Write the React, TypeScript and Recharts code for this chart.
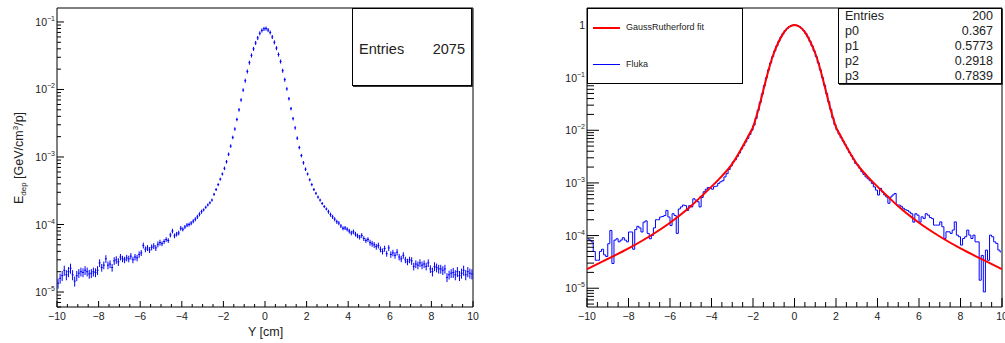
import React from 'react';
import { ComposedChart, Scatter, Line, XAxis, YAxis, ErrorBar, ReferenceArea } from 'recharts';

// ---- left panel: energy deposit per 0.1 cm bin, Y from -10 to 10 cm ----
const leftValues = [
  1.35e-5, 1.6e-5, 1.75e-5, 2.1e-5, 1.8e-5, 2.0e-5, 2.25e-5, 1.8e-5, 1.45e-5, 1.75e-5,
  1.9e-5, 2.0e-5, 1.95e-5, 2.1e-5, 2.0e-5, 1.85e-5, 1.9e-5, 2.0e-5, 1.95e-5, 2.1e-5,
  2.7e-5, 2.3e-5, 2.5e-5, 3.1e-5, 2.5e-5, 2.6e-5, 2.3e-5, 2.9e-5, 3.0e-5, 2.8e-5,
  3.3e-5, 3.1e-5, 3.0e-5, 3.2e-5, 3.1e-5, 3.4e-5, 3.0e-5, 3.3e-5, 3.2e-5, 3.6e-5,
  3.8e-5, 4.9e-5, 4.3e-5, 4.5e-5, 4.2e-5, 4.6e-5, 4.8e-5, 4.5e-5, 5.1e-5, 5.4e-5,
  5.2e-5, 5.6e-5, 6.0e-5, 5.8e-5, 7.0e-5, 8.0e-5, 6.8e-5, 7.2e-5, 7.5e-5, 8.8e-5,
  8.5e-5, 9.2e-5, 9.8e-5, 1.0e-4, 1.05e-4, 1.12e-4, 1.2e-4, 1.3e-4, 1.42e-4, 1.55e-4,
  1.65e-4, 1.8e-4, 1.95e-4, 2.1e-4, 2.3e-4, 2.8e-4, 3.3e-4, 3.9e-4, 4.7e-4, 5.6e-4,
  6.8e-4, 8.5e-4, 1.1e-3, 1.45e-3, 1.95e-3, 2.6e-3, 3.6e-3, 5.0e-3, 7.0e-3, 9.8e-3,
  0.0135, 0.0185, 0.025, 0.032, 0.040, 0.049, 0.058, 0.068, 0.075, 0.079,
  0.080, 0.076, 0.070, 0.060, 0.050, 0.041, 0.033, 0.026, 0.019, 0.014,
  0.0102, 0.0073, 0.0052, 0.0037, 0.0027, 0.0019, 0.00138, 0.00105, 8.2e-4, 6.6e-4,
  5.6e-4, 4.6e-4, 3.9e-4, 3.3e-4, 2.9e-4, 2.55e-4, 2.3e-4, 2.05e-4, 1.85e-4, 1.7e-4,
  1.55e-4, 1.4e-4, 1.3e-4, 1.2e-4, 1.1e-4, 1.05e-4, 9.5e-5, 8.8e-5, 8.9e-5, 8.5e-5,
  8.0e-5, 7.5e-5, 7.8e-5, 7.2e-5, 6.8e-5, 6.5e-5, 6.9e-5, 6.2e-5, 5.8e-5, 6.0e-5,
  5.4e-5, 5.2e-5, 5.0e-5, 4.7e-5, 4.9e-5, 4.3e-5, 4.0e-5, 4.4e-5, 3.7e-5, 4.5e-5,
  3.6e-5, 3.8e-5, 3.5e-5, 3.9e-5, 3.3e-5, 3.1e-5, 3.5e-5, 3.0e-5, 2.8e-5, 3.0e-5,
  2.9e-5, 2.4e-5, 2.6e-5, 2.5e-5, 2.7e-5, 2.5e-5, 2.6e-5, 2.4e-5, 2.7e-5, 2.2e-5,
  2.0e-5, 2.4e-5, 2.3e-5, 2.2e-5, 2.2e-5, 2.1e-5, 2.2e-5, 1.65e-5, 1.8e-5, 1.9e-5,
  1.95e-5, 1.8e-5, 2.0e-5, 1.75e-5, 1.9e-5, 2.1e-5, 1.8e-5, 2.0e-5, 1.9e-5, 1.85e-5,
];
// relative error bar size, by |Y| in whole cm
const leftRelErr = [0.07, 0.06, 0.05, 0.07, 0.08, 0.1, 0.11, 0.13, 0.15, 0.17];

// ---- right panel: normalised Fluka histogram ----
const flukaValues = [
  8.7e-5, 8.2e-5, 7.6e-5, 5.0e-5, 3.4e-5, 3.4e-5, 5.0e-5, 5.5e-5, 4.3e-5, 4.0e-5,
  7.0e-5, 1.25e-4, 2.95e-5, 8.2e-5, 8.7e-5, 7.6e-5, 8.2e-5, 9.1e-5, 8.2e-5, 7.6e-5,
  1.17e-4, 1.17e-4, 5.5e-5, 1.3e-4, 1.5e-4, 1.4e-4, 1.17e-4, 1.8e-4, 1.9e-4, 1.1e-4,
  8.7e-5, 1.0e-4, 1.4e-4, 2.0e-4, 2.0e-4, 2.25e-4, 2.3e-4, 2.4e-4, 3.0e-4, 2.25e-4,
  1.55e-4, 2.6e-4, 2.4e-4, 1.1e-4, 3.2e-4, 3.5e-4, 3.8e-4, 3.7e-4, 3.0e-4, 3.7e-4,
  3.5e-4, 5.0e-4, 4.7e-4, 4.4e-4, 3.5e-4, 5.3e-4, 6.8e-4, 7.6e-4, 8.2e-4, 7.9e-4,
  7.6e-4, 8.5e-4, 8.7e-4, 9.8e-4, 1.05e-3, 1.1e-3, 1.3e-3, 1.5e-3, 1.8e-3, 2.1e-3,
  2.5e-3, 2.75e-3, 3.2e-3, 3.7e-3, 4.4e-3, 5.1e-3, 6.0e-3, 7.0e-3, 8.3e-3, 0.0100,
  0.0125, 0.0168, 0.024, 0.034, 0.049, 0.071, 0.10, 0.14, 0.19, 0.25,
  0.32, 0.40, 0.49, 0.59, 0.69, 0.78, 0.86, 0.925, 0.97, 0.995,
  0.995, 0.97, 0.92, 0.86, 0.78, 0.69, 0.59, 0.49, 0.40, 0.32,
  0.25, 0.19, 0.14, 0.10, 0.072, 0.050, 0.035, 0.025, 0.0172, 0.0128,
  0.0102, 0.0085, 0.0072, 0.0062, 0.0053, 0.0045, 0.0038, 0.0033, 0.0028, 2.35e-3,
  2.2e-3, 1.9e-3, 1.63e-3, 1.45e-3, 1.3e-3, 1.2e-3, 1.1e-3, 9.8e-4, 8.4e-4, 7.3e-4,
  5.9e-4, 7.9e-4, 6.7e-4, 5.9e-4, 5.4e-4, 4.1e-4, 5.4e-4, 5.9e-4, 6.3e-4, 3.8e-4,
  3.8e-4, 3.6e-4, 3.3e-4, 3.1e-4, 3.0e-4, 2.8e-4, 2.6e-4, 1.8e-4, 2.6e-4, 2.44e-4,
  1.8e-4, 2.27e-4, 2.1e-4, 2.6e-4, 2.44e-4, 2.2e-4, 2.1e-4, 1.58e-4, 1.58e-4, 1.58e-4,
  1.82e-4, 1.47e-4, 8.8e-5, 1.18e-4, 1.18e-4, 1.1e-4, 1.27e-4, 1.82e-4, 1.02e-4, 9.5e-5,
  6.6e-5, 8.8e-5, 9.5e-5, 1.27e-4, 1.02e-4, 8.8e-5, 1.02e-4, 7.6e-5, 7.6e-5, 1.42e-5,
  4.2e-5, 8.5e-6, 5.3e-5, 3.4e-5, 1.02e-4, 9.5e-5, 7.6e-5, 7.1e-5, 5.3e-5, 4.9e-5,
];

// GaussRutherford fit curve
const fitX = [-10, -9, -8, -7, -6, -5, -4.5, -4, -3.5, -3, -2.5, -2.25, -2, -1.75, -1.5, -1.25, -1, -0.75, -0.5, -0.25, 0,
  0.25, 0.5, 0.75, 1, 1.25, 1.5, 1.75, 2, 2.25, 2.5, 3, 3.5, 4, 4.5, 5, 6, 7, 8, 9, 10];
const fitY = [2.3e-5, 3.6e-5, 5.7e-5, 9.6e-5, 1.75e-4, 3.6e-4, 5.5e-4, 8.5e-4, 1.35e-3, 2.3e-3, 4.9e-3, 7.5e-3, 0.0115, 0.024, 0.058, 0.14, 0.29, 0.49, 0.73, 0.925, 1.0,
  0.925, 0.73, 0.49, 0.29, 0.14, 0.058, 0.024, 0.0115, 7.5e-3, 4.9e-3, 2.3e-3, 1.35e-3, 8.5e-4, 5.5e-4, 3.6e-4, 1.75e-4, 9.6e-5, 5.7e-5, 3.6e-5, 2.3e-5];

const statsRows = [
  ['Entries', '200'],
  ['p0', '0.367'],
  ['p1', '0.5773'],
  ['p2', '0.2918'],
  ['p3', '0.7839'],
];

const xMajor = [-10, -8, -6, -4, -2, 0, 2, 4, 6, 8, 10];

const FONT = '"Liberation Sans", Arial, Helvetica, sans-serif';

const binCenter = (i: number) => Math.round((-9.95 + 0.1 * i) * 100) / 100;

const leftData = leftValues.map((v, i) => {
  const x = binCenter(i);
  const rel = leftRelErr[Math.min(9, Math.floor(Math.abs(x)))];
  return { x, y: v, err: v * rel };
});
const flukaData = flukaValues.map((v, i) => ({ x: binCenter(i), y: v }));
const fitData = fitX.map((x, i) => ({ x, y: fitY[i] }));

// axis tick positions (every 0.5 cm on X, 1..9 per decade on Y)
const xTicks: number[] = [];
for (let i = 0; i <= 40; i++) xTicks.push(-10 + i * 0.5);

const logTicks = (lo: number, hi: number) => {
  const out: number[] = [];
  for (let d = -7; d <= 1; d++) {
    for (let m = 1; m <= 9; m++) {
      const v = m * Math.pow(10, d);
      if (v >= lo && v <= hi) out.push(v);
    }
  }
  return out;
};

const minus = (v: number) => (v < 0 ? `\u2212${-v}` : `${v}`);

const makeXTick = (majorLen: number, minorLen: number) => (props: any) => {
  const { x, y, payload } = props;
  const v = payload.value;
  const major = xMajor.includes(v);
  return (
    <g>
      <line x1={x} x2={x} y1={y} y2={y - (major ? majorLen : minorLen)} stroke="#000" />
      {major && (
        <text x={x} y={y + 13} textAnchor="middle" fontSize={10.5} fill="#222" fontFamily={FONT}>
          {minus(v)}
        </text>
      )}
    </g>
  );
};

const makeYTick = (majorLen: number, minorLen: number) => (props: any) => {
  const { x, y, payload } = props;
  const v = payload.value;
  const lg = Math.log10(v);
  const major = Math.abs(lg - Math.round(lg)) < 1e-6;
  const n = Math.round(lg);
  return (
    <g>
      <line x1={x} x2={x + (major ? majorLen : minorLen)} y1={y} y2={y} stroke="#000" />
      {major && (
        <text x={x - 2} y={y + 4} textAnchor="end" fontSize={10.5} fill="#222" fontFamily={FONT}>
          {n === 0 ? '1' : (
            <>
              10<tspan dy={-5} fontSize={7}>{`\u2212${-n}`}</tspan>
            </>
          )}
        </text>
      )}
    </g>
  );
};

const LEFT_DOMAIN: [number, number] = [6.0e-6, 0.161];
const RIGHT_DOMAIN: [number, number] = [4.4e-6, 2.1];

const PointShape = (props: any) => {
  const { cx, cy } = props;
  return <line x1={cx - 1} x2={cx + 1} y1={cy} y2={cy} stroke="#0000ff" strokeWidth={1} />;
};

const LeftPanel = () => (
  <ComposedChart width={490} height={343} data={leftData} margin={{ top: 8, right: 17, left: 0, bottom: 0 }}>
    <XAxis
      dataKey="x"
      type="number"
      domain={[-10, 10]}
      ticks={xTicks}
      interval={0}
      height={36}
      tickSize={0}
      tickMargin={0}
      tickLine={false}
      axisLine={false}
      tick={makeXTick(6, 3)}
      allowDataOverflow
    />
    <YAxis
      dataKey="y"
      type="number"
      scale="log"
      domain={LEFT_DOMAIN}
      ticks={logTicks(LEFT_DOMAIN[0], LEFT_DOMAIN[1])}
      interval={0}
      width={57}
      tickSize={0}
      tickMargin={0}
      tickLine={false}
      axisLine={false}
      tick={makeYTick(7, 4)}
      allowDataOverflow
    />
    <Scatter dataKey="y" shape={<PointShape />} isAnimationActive={false}>
      <ErrorBar dataKey="err" direction="y" width={0} stroke="#0000ff" strokeWidth={1} />
    </Scatter>
    <ReferenceArea x1={-10} x2={10} y1={LEFT_DOMAIN[0]} y2={LEFT_DOMAIN[1]} fill="none" stroke="#000" strokeWidth={1} ifOverflow="visible" />
  </ComposedChart>
);

const RightPanel = () => (
  <ComposedChart width={475} height={343} margin={{ top: 8, right: 3, left: 0, bottom: 0 }}>
    <XAxis
      dataKey="x"
      type="number"
      domain={[-10, 10]}
      ticks={xTicks}
      interval={0}
      height={36}
      tickSize={0}
      tickMargin={0}
      tickLine={false}
      axisLine={false}
      tick={makeXTick(9, 5)}
      allowDataOverflow
    />
    <YAxis
      dataKey="y"
      type="number"
      scale="log"
      domain={RIGHT_DOMAIN}
      ticks={logTicks(RIGHT_DOMAIN[0], RIGHT_DOMAIN[1])}
      interval={0}
      width={57}
      tickSize={0}
      tickMargin={0}
      tickLine={false}
      axisLine={false}
      tick={makeYTick(12, 7)}
      allowDataOverflow
    />
    <Line data={flukaData} dataKey="y" type="step" stroke="#0000ff" strokeWidth={1} dot={false} isAnimationActive={false} />
    <Line data={fitData} dataKey="y" type="monotone" stroke="#ff0000" strokeWidth={2} dot={false} isAnimationActive={false} />
    <ReferenceArea x1={-10} x2={10} y1={RIGHT_DOMAIN[0]} y2={RIGHT_DOMAIN[1]} fill="none" stroke="#000" strokeWidth={1} ifOverflow="visible" />
  </ComposedChart>
);

export default function App() {
  return (
    <div style={{ position: 'absolute', left: 0, top: 0, width: 1005, height: 343, background: '#fff', fontFamily: FONT }}>
      <div style={{ position: 'absolute', left: 0, top: 0 }}>
        <LeftPanel />
      </div>
      {/* left axis titles */}
      <svg width={60} height={343} style={{ position: 'absolute', left: 0, top: 0, pointerEvents: 'none' }}>
        <text transform="rotate(-90 23 158)" x={23} y={158} textAnchor="middle" fontSize={12.5} fill="#222" fontFamily={FONT}>
          E<tspan dy={3} fontSize={8}>dep</tspan>
          <tspan dy={-3}> [GeV/cm</tspan>
          <tspan dy={-5} fontSize={8}>3</tspan>
          <tspan dy={5}>/p]</tspan>
        </text>
      </svg>
      <div style={{ position: 'absolute', left: 248, top: 325, fontSize: 12.5, color: '#222' }}>Y [cm]</div>
      {/* left stats box */}
      <div
        style={{
          position: 'absolute', left: 352, top: 8, width: 120, height: 78, boxSizing: 'border-box',
          border: '1px solid #000', boxShadow: '1px 1px 0 #333', background: '#fff',
        }}
      >
        <span style={{ position: 'absolute', left: 6, top: 32, fontSize: 14.5, color: '#222' }}>Entries</span>
        <span style={{ position: 'absolute', right: 6, top: 32, fontSize: 14.5, color: '#222' }}>2075</span>
      </div>

      <div style={{ position: 'absolute', left: 530, top: 0 }}>
        <RightPanel />
      </div>
      {/* legend */}
      <div
        style={{
          position: 'absolute', left: 587, top: 8, width: 156, height: 76, boxSizing: 'border-box',
          border: '1px solid #000', background: '#fff', fontSize: 9, color: '#222',
        }}
      >
        <div style={{ position: 'absolute', left: 5, top: 18, width: 27, height: 2, background: '#ff0000' }} />
        <span style={{ position: 'absolute', left: 38, top: 13 }}>GaussRutherford fit</span>
        <div style={{ position: 'absolute', left: 5, top: 55, width: 27, height: 1, background: '#0000ff' }} />
        <span style={{ position: 'absolute', left: 38, top: 50 }}>Fluka</span>
      </div>
      {/* fit stats box */}
      <div
        style={{
          position: 'absolute', left: 838, top: 8, width: 164, height: 76, boxSizing: 'border-box',
          border: '1px solid #000', boxShadow: '1px 1px 0 #333', background: '#fff', fontSize: 12.5, color: '#222',
        }}
      >
        {statsRows.map((r, i) => (
          <div key={r[0]} style={{ position: 'absolute', left: 6, right: 8, top: 0 + i * 15, height: 15, lineHeight: '15px' }}>
            <span style={{ position: 'absolute', left: 0 }}>{r[0]}</span>
            <span style={{ position: 'absolute', right: 0 }}>{r[1]}</span>
          </div>
        ))}
      </div>
    </div>
  );
}
